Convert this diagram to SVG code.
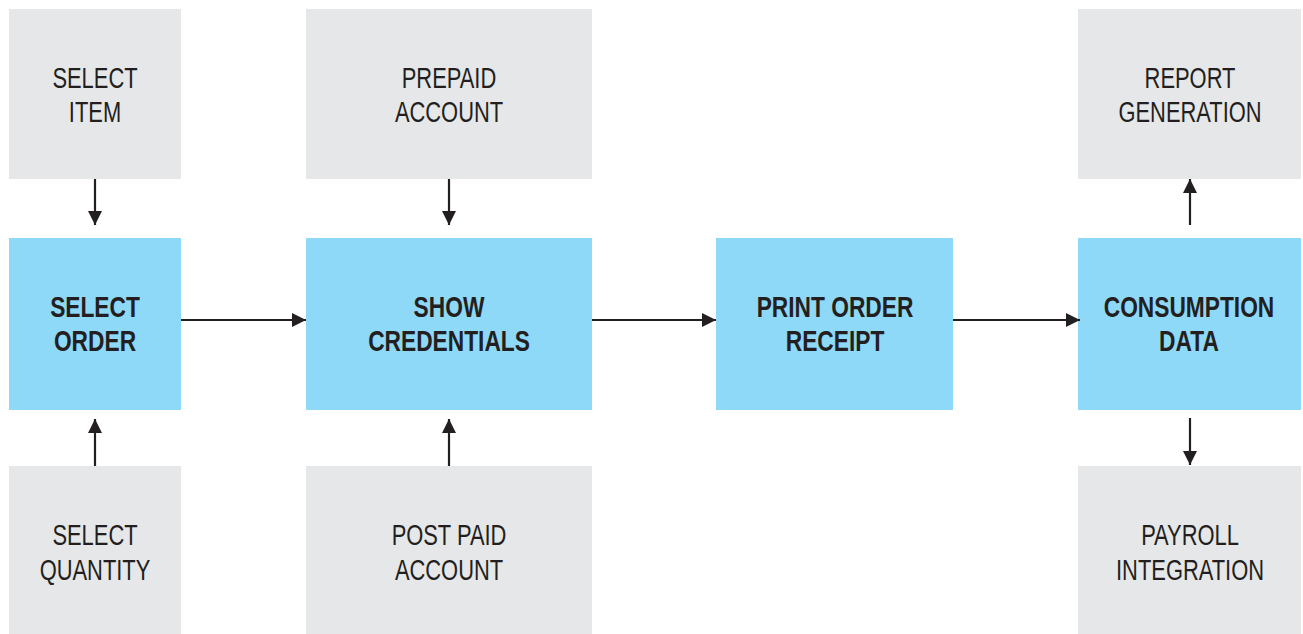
<svg xmlns="http://www.w3.org/2000/svg" width="1303" height="634" viewBox="0 0 1303 634">
<style>
.g{fill:#e6e7e8}
.b{fill:#8ed8f8}
text{font-family:"Liberation Sans",Arial,sans-serif;font-size:29px;fill:#231f20;text-anchor:middle}
.bt{font-weight:bold}
.c{stroke:#231f20;stroke-width:2.2;fill:none}
</style>
<defs>
<marker id="ah" viewBox="0 0 10 10" refX="10" refY="5" markerWidth="6.4" markerHeight="6.4" markerUnits="strokeWidth" orient="auto">
<path d="M0,0 L10,5 L0,10 z" fill="#231f20"/>
</marker>
</defs>
<rect width="1303" height="634" fill="#fff"/>
<g id="select-item"><rect class="g" x="9" y="9" width="172" height="170"/><g transform="translate(95,0) scale(0.755,1)"><text x="0" y="88">SELECT</text><text x="0" y="122">ITEM</text></g></g>
<g id="select-order"><rect class="b" x="9" y="238" width="172" height="172"/><g transform="translate(95,0) scale(0.785,1)"><text class="bt" x="0" y="317">SELECT</text><text class="bt" x="0" y="351">ORDER</text></g></g>
<g id="select-quantity"><rect class="g" x="9" y="466" width="172" height="168"/><g transform="translate(95,0) scale(0.755,1)"><text x="0" y="545">SELECT</text><text x="0" y="580">QUANTITY</text></g></g>
<g id="prepaid-account"><rect class="g" x="306" y="9" width="286" height="170"/><g transform="translate(449,0) scale(0.755,1)"><text x="0" y="88">PREPAID</text><text x="0" y="122">ACCOUNT</text></g></g>
<g id="show-credentials"><rect class="b" x="306" y="238" width="286" height="172"/><g transform="translate(449,0) scale(0.785,1)"><text class="bt" x="0" y="317">SHOW</text><text class="bt" x="0" y="351">CREDENTIALS</text></g></g>
<g id="post-paid-account"><rect class="g" x="306" y="466" width="286" height="168"/><g transform="translate(449,0) scale(0.755,1)"><text x="0" y="545">POST PAID</text><text x="0" y="580">ACCOUNT</text></g></g>
<g id="print-order-receipt"><rect class="b" x="716" y="238" width="237" height="172"/><g transform="translate(835,0) scale(0.785,1)"><text class="bt" x="0" y="317">PRINT ORDER</text><text class="bt" x="0" y="351">RECEIPT</text></g></g>
<g id="report-generation"><rect class="g" x="1078" y="9" width="223" height="170"/><g transform="translate(1190,0) scale(0.755,1)"><text x="0" y="88">REPORT</text><text x="0" y="122">GENERATION</text></g></g>
<g id="consumption-data"><rect class="b" x="1078" y="238" width="223" height="172"/><g transform="translate(1189,0) scale(0.785,1)"><text class="bt" x="0" y="317">CONSUMPTION</text><text class="bt" x="0" y="351">DATA</text></g></g>
<g id="payroll-integration"><rect class="g" x="1078" y="466" width="223" height="168"/><g transform="translate(1190,0) scale(0.755,1)"><text x="0" y="545">PAYROLL</text><text x="0" y="580">INTEGRATION</text></g></g>
<g id="connectors">
<line class="c" x1="95" y1="179" x2="95" y2="225" marker-end="url(#ah)"/>
<line class="c" x1="95" y1="466" x2="95" y2="419" marker-end="url(#ah)"/>
<line class="c" x1="449" y1="179" x2="449" y2="225" marker-end="url(#ah)"/>
<line class="c" x1="449" y1="466" x2="449" y2="419" marker-end="url(#ah)"/>
<line class="c" x1="181" y1="320" x2="306" y2="320" marker-end="url(#ah)"/>
<line class="c" x1="592" y1="320" x2="716" y2="320" marker-end="url(#ah)"/>
<line class="c" x1="953" y1="320" x2="1080" y2="320" marker-end="url(#ah)"/>
<line class="c" x1="1190" y1="225" x2="1190" y2="179" marker-end="url(#ah)"/>
<line class="c" x1="1190" y1="418" x2="1190" y2="465" marker-end="url(#ah)"/>
</g>
</svg>
